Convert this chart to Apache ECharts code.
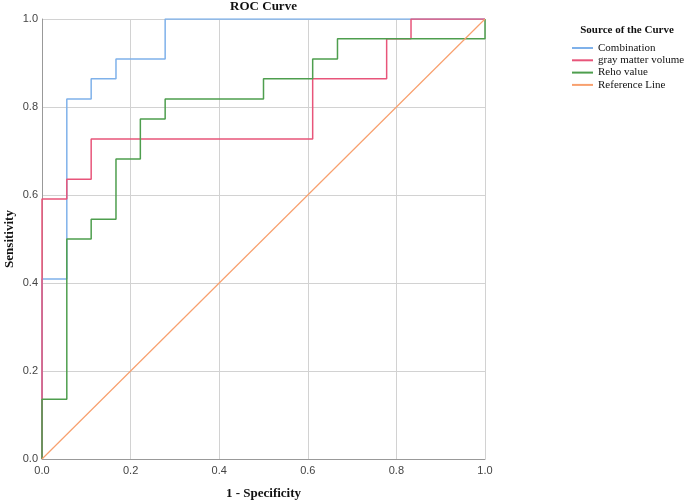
<!DOCTYPE html>
<html>
<head>
<meta charset="utf-8">
<script src="https://cdn.jsdelivr.net/npm/echarts@6/dist/echarts.min.js"></script>
<style>html,body{margin:0;padding:0;background:#fff}#c{width:685px;height:502px}</style>
</head>
<body>
<div id="c"></div>
<script>
var seriesNames = ['Combination', 'gray matter volume', 'Reho value', 'Reference Line'];
var xTicks = [0, 0.2, 0.4, 0.6, 0.8, 1.0];
var yTicks = [0, 0.2, 0.4, 0.6, 0.8, 1.0];

var combinationX = [0, 0, 0.056, 0.056, 0.111, 0.111, 0.167, 0.167, 0.278, 0.278, 1];
var combinationY = [0, 0.409, 0.409, 0.818, 0.818, 0.864, 0.864, 0.909, 0.909, 1, 1];

var grayX = [0, 0, 0.056, 0.056, 0.111, 0.111, 0.611, 0.611, 0.778, 0.778, 0.833, 0.833, 1];
var grayY = [0, 0.591, 0.591, 0.636, 0.636, 0.727, 0.727, 0.864, 0.864, 0.955, 0.955, 1, 1];

var rehoX = [0, 0, 0.056, 0.056, 0.111, 0.111, 0.167, 0.167, 0.222, 0.222, 0.278, 0.278, 0.5, 0.5, 0.611, 0.611, 0.667, 0.667, 1, 1];
var rehoY = [0, 0.136, 0.136, 0.5, 0.5, 0.545, 0.545, 0.682, 0.682, 0.773, 0.773, 0.818, 0.818, 0.864, 0.864, 0.909, 0.909, 0.955, 0.955, 1];

var refX = [0, 1];
var refY = [0, 1];

var colors = ['#7fb1ea', '#e8557a', '#4e9e4e', '#f8a06e'];

function pairs(xs, ys) { return xs.map(function (x, i) { return [x, ys[i]]; }); }

var allData = [pairs(combinationX, combinationY), pairs(grayX, grayY), pairs(rehoX, rehoY), pairs(refX, refY)];

var chart = echarts.init(document.getElementById('c'));
chart.setOption({
  animation: false,
  backgroundColor: '#fff',
  title: [
    { text: 'ROC Curve', left: 263.5, textAlign: 'center', top: 0, padding: 0,
      textStyle: { fontFamily: 'Liberation Serif', fontWeight: 'bold', fontSize: 13, color: '#111' } },
    { text: 'Source of the Curve', left: 627, textAlign: 'center', top: 25, padding: 0,
      textStyle: { fontFamily: 'Liberation Serif', fontWeight: 'bold', fontSize: 11, color: '#111' } }
  ],
  legend: {
    orient: 'vertical', left: 572, top: 42, itemWidth: 21, itemHeight: 2, itemGap: 0.3,
    padding: 0,
    icon: 'rect',
    data: seriesNames,
    textStyle: { fontFamily: 'Liberation Serif', fontSize: 11, color: '#111', lineHeight: 12 }
  },
  grid: { left: 42, right: 200, top: 19, bottom: 43, containLabel: false, outerBoundsMode: 'none' },
  xAxis: {
    type: 'value', min: 0, max: 1, interval: 0.2,
    name: '1 - Specificity', nameLocation: 'middle', nameGap: 28, nameMoveOverlap: false,
    nameTextStyle: { fontFamily: 'Liberation Serif', fontWeight: 'bold', fontSize: 13, color: '#111' },
    axisLine: { show: true, lineStyle: { color: '#999', width: 1 } },
    axisTick: { show: false },
    axisLabel: { margin: 6, fontFamily: 'Liberation Sans', fontSize: 11, color: '#444',
      formatter: function (v) { return v.toFixed(1); } },
    splitLine: { show: true, lineStyle: { color: '#d2d2d2', width: 1 } }
  },
  yAxis: {
    type: 'value', min: 0, max: 1, interval: 0.2,
    name: 'Sensitivity', nameLocation: 'middle', nameGap: 26, nameMoveOverlap: false,
    nameTextStyle: { fontFamily: 'Liberation Serif', fontWeight: 'bold', fontSize: 13, color: '#111' },
    axisLine: { show: true, lineStyle: { color: '#999', width: 1 } },
    axisTick: { show: false },
    axisLabel: { margin: 4, fontFamily: 'Liberation Sans', fontSize: 11, color: '#444',
      formatter: function (v) { return v.toFixed(1); } },
    splitLine: { show: true, lineStyle: { color: '#d2d2d2', width: 1 } }
  },
  series: seriesNames.map(function (n, i) {
    return {
      name: n, type: 'line', data: allData[i], showSymbol: false, symbol: 'none',
      itemStyle: { color: colors[i] },
      lineStyle: { color: colors[i], width: i === 3 ? 1.2 : 1.5 },
      z: 2 + i
    };
  })
});
</script>
</body>
</html>
